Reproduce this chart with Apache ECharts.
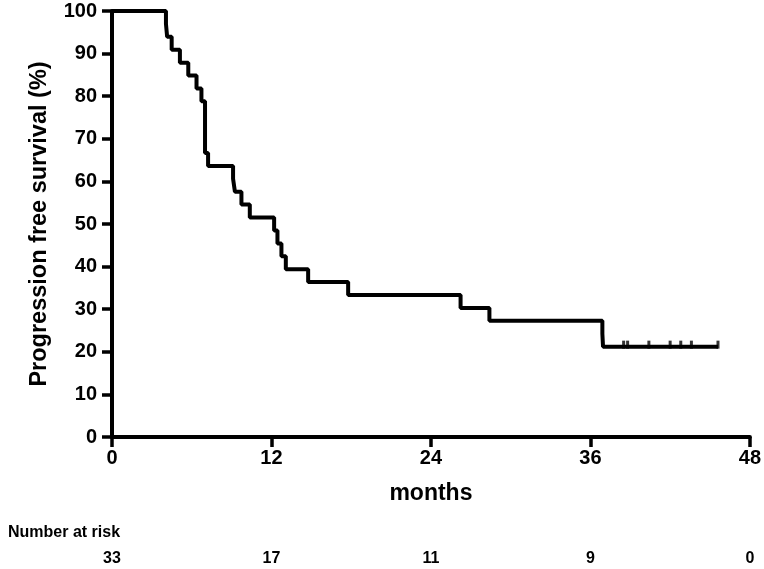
<!DOCTYPE html>
<html>
<head>
<meta charset="utf-8">
<script src="https://cdn.jsdelivr.net/npm/echarts@6/dist/echarts.min.js"></script>
<style>html,body{margin:0;padding:0;background:#fff;}#c{width:764px;height:569px;}</style>
</head>
<body>
<div id="c"></div>
<script>
// Kaplan-Meier step points (months, % progression free)
var months = [0, 4.06, 4.15, 4.49, 5.11, 5.74, 6.36, 6.73, 7.0, 7.23, 9.11, 9.25, 9.74, 10.37, 12.2, 12.45, 12.75, 13.08, 14.76, 17.77, 26.23, 28.4, 36.9, 36.95, 45.6];
var survival = [100, 96.97, 93.94, 90.91, 87.88, 84.85, 81.82, 78.79, 66.67, 63.64, 60.61, 57.58, 54.55, 51.52, 48.48, 45.45, 42.42, 39.39, 36.36, 33.33, 30.30, 27.27, 24.24, 21.21, 21.21];
// censored observations
var censorMonths = [38.5, 38.8, 40.4, 42.0, 42.8, 43.6, 45.6];
var censorSurvival = [21.21, 21.21, 21.21, 21.21, 21.21, 21.21, 21.21];
// axis ticks
var xTicks = [0, 12, 24, 36, 48];
var atRisk = [33, 17, 11, 9, 0];

var curve = months.map(function (m, i) { return [m, survival[i]]; });
var censor = censorMonths.map(function (m, i) { return [m, censorSurvival[i]]; });

var FF = 'Liberation Sans, Arial, sans-serif';
var chart = echarts.init(document.getElementById('c'));
var lab = { color: '#000', fontFamily: FF, fontWeight: 'bold', fontSize: 20 };
chart.setOption({
  animation: false,
  backgroundColor: '#fff',
  grid: { left: 112, right: 13, top: 11, bottom: 132, containLabel: false },
  xAxis: [{
    type: 'value', min: 0, max: 48, interval: 12,
    name: 'months', nameLocation: 'middle', nameGap: 45,
    nameTextStyle: { color: '#000', fontFamily: FF, fontWeight: 'bold', fontSize: 23 },
    axisLine: { show: true, onZero: false, lineStyle: { color: '#000', width: 4 } },
    axisTick: { show: true, length: 10, lineStyle: { color: '#000', width: 3.5 } },
    axisLabel: Object.assign({ margin: 11 }, lab),
    splitLine: { show: false }
  }, {
    type: 'value', min: 0, max: 48, interval: 12, position: 'bottom', offset: 106,
    axisLine: { show: false }, axisTick: { show: false }, splitLine: { show: false },
    axisLabel: {
      margin: 8, color: '#000', fontFamily: FF, fontWeight: 'bold', fontSize: 16,
      formatter: function (v) { var i = xTicks.indexOf(v); return i >= 0 ? String(atRisk[i]) : ''; }
    }
  }],
  yAxis: {
    type: 'value', min: 0, max: 100, interval: 10,
    name: 'Progression free survival (%)', nameLocation: 'middle', nameGap: 60,
    nameTextStyle: { color: '#000', fontFamily: FF, fontWeight: 'bold', fontSize: 23.5 },
    axisLine: { show: true, onZero: false, lineStyle: { color: '#000', width: 4 } },
    axisTick: { show: true, length: 10, lineStyle: { color: '#000', width: 3.5 } },
    axisLabel: Object.assign({ margin: 15 }, lab),
    splitLine: { show: false }
  },
  graphic: [{
    type: 'text', left: 8, top: 525,
    style: { text: 'Number at risk', fill: '#000', font: 'bold 16px "Liberation Sans", Arial, sans-serif' }
  }],
  series: [{
    type: 'line', data: curve, step: 'end', symbol: 'none', clip: false,
    lineStyle: { color: '#000', width: 4 }
  }, {
    type: 'scatter', data: censor, symbol: 'rect', symbolSize: [3, 8], symbolOffset: [0, -2],
    itemStyle: { color: '#000' }, clip: false
  }]
});
</script>
</body>
</html>
